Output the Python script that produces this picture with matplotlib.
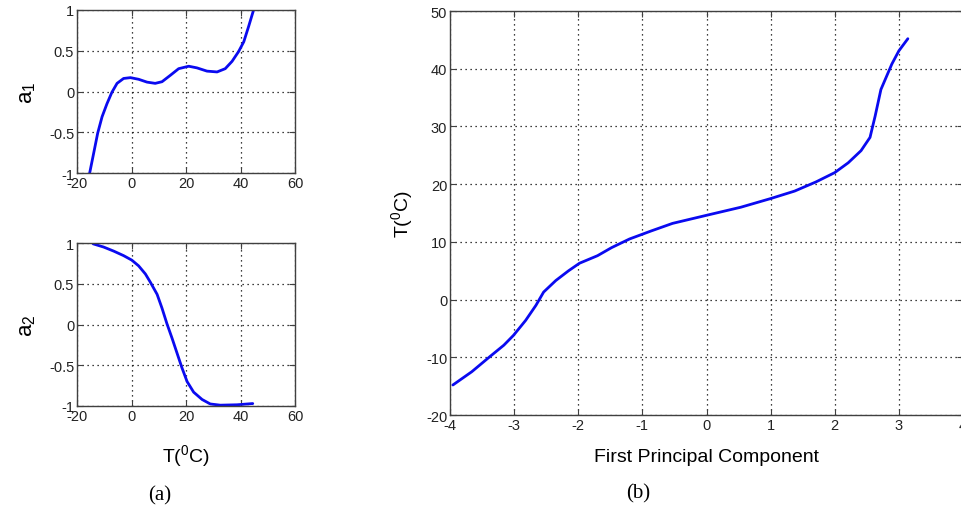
import matplotlib
matplotlib.use("Agg")
import matplotlib.pyplot as plt

plt.rcParams['font.family'] = ['Liberation Sans', 'DejaVu Sans']
plt.rcParams['mathtext.default'] = 'regular'

# ---- data ----
T_a1 = [-15.35, -13.9, -12.4, -10.8, -9.0, -7.2, -5.3, -2.9, -0.4, 2.6, 5.7, 8.7, 11.2,
        14.3, 17.3, 21.0, 24.0, 27.7, 31.4, 34.4, 36.9, 39.3, 41.2, 43.0, 44.8]
a1 = [-1.0, -0.76, -0.51, -0.31, -0.15, -0.01, 0.10, 0.16, 0.17, 0.15, 0.115, 0.10, 0.12,
      0.20, 0.28, 0.31, 0.29, 0.25, 0.24, 0.28, 0.37, 0.49, 0.61, 0.80, 1.0]

T_a2 = [-14.1, -10.2, -6.5, -2.9, 0.1, 2.6, 5.1, 6.9, 9.4, 11.2, 13.0, 14.9, 16.7,
        18.5, 20.4, 22.8, 25.9, 28.9, 32.6, 38.7, 44.5]
a2 = [0.99, 0.95, 0.90, 0.845, 0.79, 0.72, 0.62, 0.52, 0.37, 0.20, 0.01, -0.17, -0.35,
      -0.53, -0.70, -0.83, -0.92, -0.975, -0.99, -0.985, -0.97]

pc = [-3.955, -3.66, -3.38, -3.16, -3.01, -2.82, -2.66, -2.54, -2.35, -2.15, -1.98, -1.70,
      -1.48, -1.20, -0.86, -0.53, 0.0, 0.535, 1.0, 1.375, 1.71, 2.0, 2.21, 2.41, 2.55,
      2.63, 2.72, 2.89, 3.0, 3.14]
T_pc = [-14.8, -12.5, -9.9, -7.9, -6.2, -3.6, -1.0, 1.3, 3.3, 5.0, 6.3, 7.6,
        9.0, 10.5, 11.9, 13.2, 14.6, 16.0, 17.5, 18.8, 20.4, 22.0, 23.7, 25.8, 28.1,
        31.8, 36.4, 40.8, 43.1, 45.2]

a_xticks = [-20, 0, 20, 40, 60]
a_xticklabels = ['-20', '0', '20', '40', '60']
a_yticks = [-1, -0.5, 0, 0.5, 1]
a_yticklabels = ['-1', '-0.5', '0', '0.5', '1']
b_xticks = [-4, -3, -2, -1, 0, 1, 2, 3, 4]
b_xticklabels = ['-4', '-3', '-2', '-1', '0', '1', '2', '3', '4']
b_yticks = [-20, -10, 0, 10, 20, 30, 40, 50]
b_yticklabels = ['-20', '-10', '0', '10', '20', '30', '40', '50']

W, H = 962, 510
fig = plt.figure(figsize=(W / 100, H / 100), dpi=100)

def px_axes(x0, y0, x1, y1):
    return fig.add_axes([x0 / W, 1 - y1 / H, (x1 - x0) / W, (y1 - y0) / H])

line_kw = dict(color='#0a0af0', lw=2.0, solid_capstyle='round', solid_joinstyle='round')
spine_col = '#404040'

def style(ax, xt, xtl, yt, ytl, xlim, ylim):
    ax.set_xlim(*xlim)
    ax.set_ylim(*ylim)
    ax.set_xticks(xt)
    ax.set_xticklabels(xtl)
    ax.set_yticks(yt)
    ax.set_yticklabels(ytl)
    ax.tick_params(direction='in', length=4, width=0.8, colors=spine_col,
                   labelcolor='#222222', labelsize=10.5, top=True, right=True, pad=2)
    for s in ax.spines.values():
        s.set_color(spine_col)
        s.set_linewidth(1.0)
    ax.grid(True, color='black', linestyle=(0, (1, 3)), linewidth=0.9)
    ax.set_axisbelow(True)

ax1 = px_axes(77, 11, 295, 174)
ax1.plot(T_a1, a1, **line_kw)
style(ax1, a_xticks, a_xticklabels, a_yticks, a_yticklabels, (-20, 60), (-1, 1))
ax1.set_ylabel('a$_1$', fontsize=16, labelpad=8)

ax2 = px_axes(77, 244, 295, 407)
ax2.plot(T_a2, a2, **line_kw)
style(ax2, a_xticks, a_xticklabels, a_yticks, a_yticklabels, (-20, 60), (-1, 1))
ax2.set_ylabel('a$_2$', fontsize=16, labelpad=8)
ax2.set_xlabel('T($^{0}$C)', fontsize=14, labelpad=14)

ax3 = px_axes(450, 12, 963, 416)
ax3.plot(pc, T_pc, **line_kw)
style(ax3, b_xticks, b_xticklabels, b_yticks, b_yticklabels, (-4, 4), (-20, 50))
ax3.set_ylabel('T($^{0}$C)', fontsize=14, labelpad=8)
ax3.set_xlabel('First Principal Component', fontsize=14, labelpad=12)

fig.text(160 / W, 1 - 496 / H, '(a)', family=['Liberation Serif', 'DejaVu Serif'],
         fontsize=15, ha='center', va='center')
fig.text(638 / W, 1 - 494 / H, '(b)', family=['Liberation Serif', 'DejaVu Serif'],
         fontsize=15, ha='center', va='center')

fig.savefig('out.png', dpi=100)
